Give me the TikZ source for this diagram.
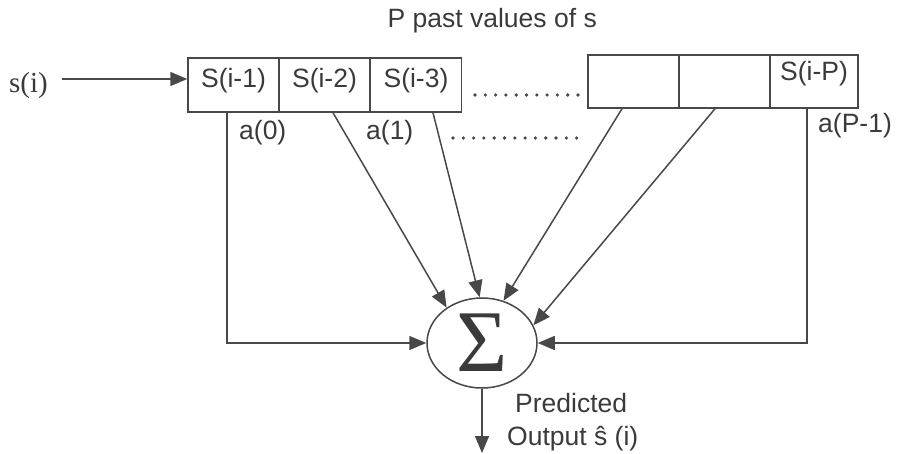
\documentclass[tikz,border=0pt]{standalone}
\usepackage{fontspec}
\setmainfont{Liberation Sans}
\newfontfamily\seriffont{Liberation Serif}
\usetikzlibrary{arrows.meta,shapes.geometric,calc}
\definecolor{ink}{HTML}{484848}
\definecolor{txt}{HTML}{3A3A3A}
\begin{document}
\begin{tikzpicture}[x=1pt,y=-1pt,
  conn/.style={draw=ink, line width=1.5pt},
  arr/.style={conn, -{Triangle[length=17pt,width=14pt]}},
  cell/.style={draw=ink, line width=1.5pt, rectangle, minimum width=91pt, inner sep=0pt,
    font=\fontsize{26.5}{26.5}\selectfont, text=txt, text height=19pt},
  lbl/.style={font=\fontsize{26.5}{26.5}\selectfont, text=txt, inner sep=0pt},
  dots/.style={draw=ink, line width=3.6pt, line cap=round, dash pattern=on 0pt off 10.3pt},
]
\useasboundingbox (0,0) rectangle (897,454);

% register cells
\node[cell, minimum height=54pt, text depth=13pt] (c1) at (233.5,85) {S(i-1)};
\node[cell, minimum height=54pt, text depth=13pt] (c2) at (324.5,85) {S(i-2)};
\node[cell, minimum height=54pt, text depth=13pt] (c3) at (416,85) {S(i-3)};
\node[cell, minimum height=53pt, text depth=20pt] (d1) at (633.5,81.5) {};
\node[cell, minimum height=53pt, text depth=20pt] (d2) at (724.5,81.5) {};
\node[cell, minimum height=53pt, text depth=20pt, minimum width=88pt] (d3) at (814,81.5) {S(i-P)};

% dotted continuation
\draw[dots] (475,95) -- (580,95);
\draw[dots] (453,138) -- (585,138);

% title
\node[lbl, anchor=base east] (title) at (597,28) {P past values of s};

% input
\node[font=\seriffont\fontsize{29}{29}\selectfont, text=txt, anchor=base west, inner sep=0pt] (si) at (9,93) {s(i)};
\coordinate (sin) at (62,79);
\draw[arr] (sin) -- (sin -| c1.west);

% summer
\node[ellipse, draw=ink, line width=1.5pt, minimum width=110pt, minimum height=90pt, inner sep=0pt,
  font=\seriffont\fontsize{88}{88}\selectfont, text=txt] (sum) at (482,343) {Σ};

% coefficient connectors
\draw[arr] ([xshift=-6.5pt]c1.south) |- (sum.west);
\draw[arr] ([xshift=8.5pt]c2.south) -- (sum.135);
\draw[arr] ([xshift=17pt]c3.south) -- (sum.93);
\draw[arr] ([xshift=-11.5pt]d1.south) -- (sum.63);
\draw[arr] ([xshift=-9.5pt]d2.south) -- (sum.19);
\draw[arr] ([xshift=-7pt]d3.south) |- (sum.east);

% output
\coordinate (out) at (482,453);
\draw[arr] (sum.south) -- (out);

% labels
\node[lbl, anchor=base west] (a0) at (239,140) {a(0)};
\node[lbl, anchor=base west] (a1) at (366,140) {a(1)};
\node[lbl, anchor=base west] (aP) at (818,133) {a(P-1)};
\node[lbl, anchor=base west] (pred) at (515,412) {Predicted};
\node[lbl, anchor=base west] (outl) at (507,445) {Output ŝ (i)};
\end{tikzpicture}
\end{document}
